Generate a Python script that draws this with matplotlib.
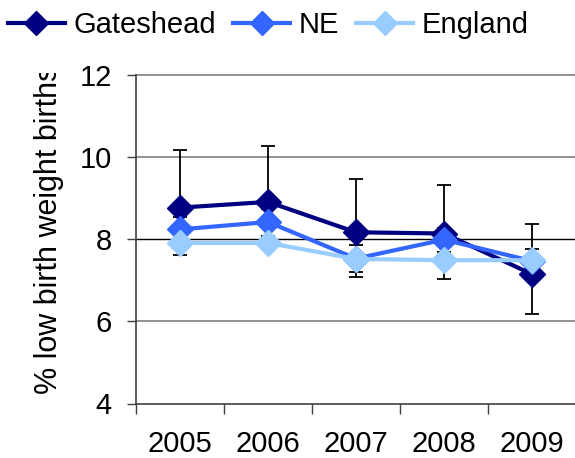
import matplotlib.pyplot as plt
from matplotlib.lines import Line2D
from matplotlib.transforms import Bbox

plt.rcParams["font.family"] = ["Liberation Sans", "DejaVu Sans"]

years = ["2005", "2006", "2007", "2008", "2009"]

gateshead = [8.77, 8.91, 8.17, 8.14, 7.15]
gateshead_upper = [10.17, 10.26, 9.47, 9.33, 8.37]
gateshead_lower = [7.62, 7.78, 7.08, 7.03, 6.19]

ne = [8.24, 8.42, 7.53, 7.99, 7.47]
ne_upper = [8.55, 8.73, 7.85, 8.28, 7.77]
ne_lower = [7.93, 8.09, 7.20, 7.68, 7.16]

england = [7.91, 7.91, 7.52, 7.49, 7.49]

COLOR_GATESHEAD = "#000080"
COLOR_NE = "#3366FF"
COLOR_ENGLAND = "#99CCFF"

W, H = 575, 458
fig = plt.figure(figsize=(W / 100, H / 100), dpi=100)
ax = fig.add_axes([136 / W, (H - 403.5) / H, (576 - 136) / W, (403.5 - 75) / H])

x = list(range(len(years)))

# error bars sit behind the lines
ax.errorbar(
    x, gateshead,
    yerr=[[g - lo for g, lo in zip(gateshead, gateshead_lower)],
          [up - g for g, up in zip(gateshead, gateshead_upper)]],
    fmt="none", ecolor="black", elinewidth=1.3, capsize=5, capthick=1.3, zorder=2,
)
ax.errorbar(
    x, ne,
    yerr=[[v - lo for v, lo in zip(ne, ne_lower)],
          [up - v for v, up in zip(ne, ne_upper)]],
    fmt="none", ecolor="black", elinewidth=1.3, capsize=5, capthick=1.3, zorder=2,
)

series = [
    ("Gateshead", gateshead, COLOR_GATESHEAD),
    ("NE", ne, COLOR_NE),
    ("England", england, COLOR_ENGLAND),
]
for i, (name, vals, col) in enumerate(series):
    ax.plot(x, vals, color=col, lw=3, marker="D", markersize=13.5,
            markeredgecolor=col, zorder=3 + i)

ax.set_xlim(-0.5, 4.5)
ax.set_ylim(4, 12)
ax.set_yticks([4, 6, 8, 10, 12])
ax.set_xticks(x)
ax.set_xticklabels(years)
ax.set_xticks([i - 0.5 for i in range(len(years))], minor=True)

ax.tick_params(axis="y", labelsize=21, length=6.5, width=1, color="#404040", pad=11)
ax.tick_params(axis="x", which="major", labelsize=21, length=0, pad=19)
ax.tick_params(axis="x", which="minor", length=7, width=1, color="#404040")

for y in [6, 10, 12]:
    ax.axhline(y, color="#808080", lw=1.2, zorder=1, clip_on=False)
ax.axhline(8, color="black", lw=1, zorder=1)

for side in ["top", "right"]:
    ax.spines[side].set_visible(False)
for side in ["left", "bottom"]:
    ax.spines[side].set_color("#404040")
    ax.spines[side].set_linewidth(1.2)

# the label is taller than the axes and gets cut off at the top
label = fig.text(49 / W, 1 - 394 / H, "% low birth weight births", rotation=90,
                 ha="center", va="bottom", fontsize=22)
label.set_clip_box(Bbox.from_extents(0, 0, W, H - 73))
label.set_clip_on(True)

handles = [Line2D([], [], color=c, lw=3, marker="D", markersize=12.5) for _, _, c in series]
fig.legend(handles, [s[0] for s in series], loc="upper left",
           bbox_to_anchor=(8 / W, 1 - 11 / H), ncol=3, frameon=False, fontsize=21,
           handlelength=1.95, handletextpad=0.28, columnspacing=0.6,
           borderpad=0, borderaxespad=0)

fig.savefig("out.png", dpi=100)
